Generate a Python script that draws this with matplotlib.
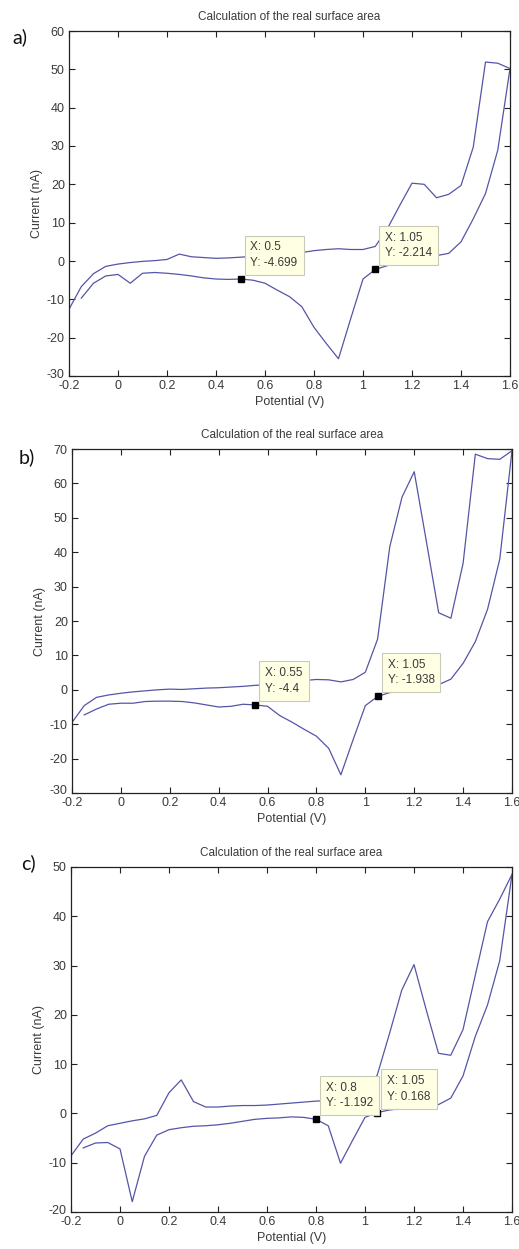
import matplotlib
matplotlib.use("Agg")
import matplotlib.pyplot as plt
from matplotlib.transforms import ScaledTranslation

# potentials of the forward sweep (-0.2 -> 1.6 V) and of the reverse sweep (1.6 -> -0.15 V)
potential_fwd = [-0.2, -0.15, -0.1, -0.05, 0.0, 0.05, 0.1, 0.15, 0.2, 0.25, 0.3, 0.35,
                 0.4, 0.45, 0.5, 0.55, 0.6, 0.65, 0.7, 0.75, 0.8, 0.85, 0.9, 0.95,
                 1.0, 1.05, 1.1, 1.15, 1.2, 1.25, 1.3, 1.35, 1.4, 1.45, 1.5, 1.55, 1.6]
potential_rev = [1.6, 1.55, 1.5, 1.45, 1.4, 1.35, 1.3, 1.25, 1.2, 1.15, 1.1, 1.05,
                 1.0, 0.95, 0.9, 0.85, 0.8, 0.75, 0.7, 0.65, 0.6, 0.55, 0.5, 0.45,
                 0.4, 0.35, 0.3, 0.25, 0.2, 0.15, 0.1, 0.05, 0.0, -0.05, -0.1, -0.15]

# panel a
current_a_fwd = [-12.6, -6.7, -3.3, -1.4, -0.8, -0.4, -0.1, 0.1, 0.4, 1.8, 1.1, 0.9,
                 0.7, 0.8, 1.0, 1.2, 1.4, 1.6, 1.8, 2.2, 2.7, 3.0, 3.2, 3.0,
                 3.0, 3.8, 8.5, 14.5, 20.3, 20.0, 16.5, 17.4, 19.7, 29.7, 51.9, 51.6, 50.2]
current_a_rev = [50.2, 28.9, 17.6, 11.0, 5.0, 2.0, 1.4, 1.0, 0.5, -0.3, -1.2, -2.214,
                 -4.7, -15.0, -25.5, -21.5, -17.3, -11.9, -9.3, -7.6, -5.8, -5.0, -4.699, -4.8,
                 -4.7, -4.4, -3.9, -3.5, -3.2, -3.0, -3.2, -5.8, -3.5, -3.9, -5.8, -9.7]

# panel b
current_b_fwd = [-9.5, -4.6, -2.2, -1.5, -1.0, -0.6, -0.3, 0.0, 0.2, 0.1, 0.3, 0.5,
                 0.6, 0.8, 1.0, 1.3, 1.5, 1.8, 2.2, 2.7, 3.0, 2.9, 2.3, 3.0,
                 5.1, 14.7, 41.6, 56.0, 63.4, 43.0, 22.4, 20.8, 36.8, 68.5, 67.2, 67.0, 69.5]
current_b_rev = [69.5, 38.0, 23.4, 14.0, 7.7, 3.1, 1.5, 0.8, 0.3, -0.3, -0.8, -1.938,
                 -4.6, -14.5, -24.7, -17.0, -13.5, -11.5, -9.4, -7.5, -4.8, -4.4, -4.2, -4.8,
                 -5.0, -4.4, -3.8, -3.4, -3.3, -3.3, -3.4, -3.9, -3.9, -4.2, -5.6, -7.3]

# panel c
current_c_fwd = [-8.6, -5.2, -4.0, -2.5, -2.0, -1.5, -1.1, -0.4, 4.2, 6.8, 2.4, 1.3,
                 1.3, 1.5, 1.6, 1.6, 1.7, 1.9, 2.1, 2.3, 2.5, 2.6, 2.9, 3.2,
                 4.2, 7.8, 16.2, 25.0, 30.2, 21.0, 12.2, 11.8, 17.0, 28.0, 38.9, 43.5, 48.5]
current_c_rev = [48.5, 31.0, 22.0, 15.6, 7.6, 3.1, 1.8, 1.4, 1.2, 1.0, 0.7, 0.168,
                 -0.8, -5.4, -10.1, -2.5, -1.192, -0.8, -0.7, -0.9, -1.0, -1.2, -1.6, -2.0,
                 -2.3, -2.5, -2.6, -2.9, -3.3, -4.4, -8.7, -17.9, -7.2, -5.9, -6.0, -7.0]

panel_labels = ["a)", "b)", "c)"]
y_limits = [(-30, 60), (-30, 70), (-20, 50)]
y_steps = [10, 10, 10]
x_ticks = [-0.2, 0, 0.2, 0.4, 0.6, 0.8, 1, 1.2, 1.4, 1.6]
x_tick_labels = ["-0.2", "0", "0.2", "0.4", "0.6", "0.8", "1", "1.2", "1.4", "1.6"]
data_tips = [[(0.5, -4.699), (1.05, -2.214)],
             [(0.55, -4.4), (1.05, -1.938)],
             [(0.8, -1.192), (1.05, 0.168)]]
tip_labels = [[("0.5", "-4.699"), ("1.05", "-2.214")],
              [("0.55", "-4.4"), ("1.05", "-1.938")],
              [("0.8", "-1.192"), ("1.05", "0.168")]]

curves = [(current_a_fwd, current_a_rev),
          (current_b_fwd, current_b_rev),
          (current_c_fwd, current_c_rev)]

W, H = 519, 1249
# axes boxes in pixels: left, top, right, bottom
boxes = [(69, 31, 510, 376), (72, 449, 512, 793), (71, 867, 512, 1212)]
letter_pos = [(20, 37), (27, 457), (28, 863)]

line_color = "#5555a6"
text_color = "#3a3a3a"
plt.rcParams["font.family"] = ["Liberation Sans", "DejaVu Sans"]
plt.rcParams["axes.unicode_minus"] = False

fig = plt.figure(figsize=(W / 100, H / 100), dpi=100)

for i in range(3):
    l, t, r, b = boxes[i]
    ax = fig.add_axes([l / W, 1 - b / H, (r - l) / W, (b - t) / H])
    fwd, rev = curves[i]
    ax.plot(potential_fwd, fwd, color=line_color, lw=0.9)
    ax.plot(potential_rev, rev, color=line_color, lw=0.9)

    ax.set_xlim(-0.2, 1.6)
    ax.set_ylim(*y_limits[i])
    ax.set_xticks(x_ticks)
    ax.set_xticklabels(x_tick_labels)
    lo, hi = y_limits[i]
    ax.set_yticks(list(range(lo, hi + 1, y_steps[i])))

    ax.tick_params(direction="in", length=4, width=0.8, top=True, right=True,
                   labelsize=9, labelcolor=text_color, pad=3, color="#222222")
    for s in ax.spines.values():
        s.set_linewidth(0.9)
        s.set_color("#222222")

    # lowest y label sits just above the corner, as in the MATLAB figure
    bottom_lbl = ax.get_yticklabels()[0]
    bottom_lbl.set_transform(bottom_lbl.get_transform() +
                             ScaledTranslation(0, 3 / 100, fig.dpi_scale_trans))

    ax.set_title("Calculation of the real surface area", fontsize=8.5,
                 color=text_color, pad=8)
    ax.set_xlabel("Potential (V)", fontsize=9, color=text_color, labelpad=3)
    ax.set_ylabel("Current (nA)", fontsize=9, color=text_color, labelpad=3)

    for (px, py), (tx, ty) in zip(data_tips[i], tip_labels[i]):
        ax.plot([px], [py], marker="s", color="black", markersize=5, zorder=5)
        ax.annotate("X: %s\nY: %s" % (tx, ty), xy=(px, py), xytext=(10, 10),
                    textcoords="offset pixels", ha="left", va="bottom",
                    fontsize=8.5, color=text_color, linespacing=1.4,
                    bbox=dict(boxstyle="square,pad=0.5", facecolor="#ffffe3",
                              edgecolor="#c9c9b8", lw=0.8),
                    zorder=6)

    lx, ly = letter_pos[i]
    fig.text(lx / W, 1 - ly / H, panel_labels[i], fontsize=14, color="#111111",
             ha="center", va="center", family=["Lato", "DejaVu Sans"])

fig.savefig("out.png", dpi=100)
